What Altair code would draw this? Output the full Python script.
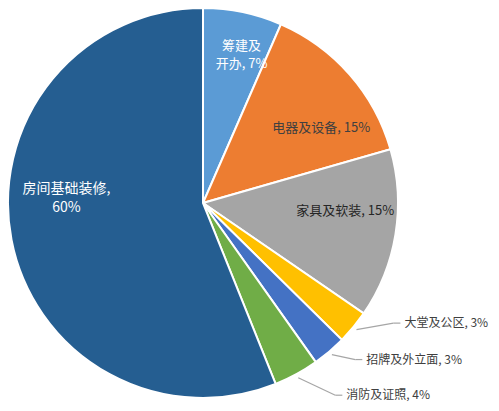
import altair as alt
import pandas as pd

categories = ["筹建及开办", "电器及设备", "家具及软装", "大堂及公区", "招牌及外立面", "消防及证照", "房间基础装修"]
values = [7, 15, 15, 3, 3, 4, 60]
labels = ["筹建及\n开办, 7%", "电器及设备, 15%", "家具及软装, 15%", "大堂及公区, 3%",
          "招牌及外立面, 3%", "消防及证照, 4%", "房间基础装修,\n60%"]
colors = ["#5B9BD5", "#ED7D31", "#A5A5A5", "#FFC000", "#4472C4", "#70AD47", "#255E91"]

df = pd.DataFrame({"category": categories, "value": values, "label": labels,
                   "idx": list(range(len(categories)))})

FONT = "Noto Sans CJK SC"
CX, CY, R = 195, 195, 195

base = alt.Chart(df)

pie = base.mark_arc(outerRadius=R, stroke="white", strokeWidth=2).encode(
    theta=alt.Theta("value:Q", stack=True),
    color=alt.Color("category:N", scale=alt.Scale(domain=categories, range=colors), legend=None),
    order=alt.Order("idx:Q"),
)

geo = base.transform_joinaggregate(total="sum(value)").transform_window(
    cum="sum(value)", sort=[alt.SortField("idx", order="ascending")], frame=[None, 0]
).transform_calculate(mid="(datum.cum - datum.value / 2) / datum.total * 2 * PI")


def inside(cat, r, dx, dy, color, size=13, lh=16):
    return geo.transform_filter(alt.datum.category == cat).transform_calculate(
        tx=f"{CX} + {r} * sin(datum.mid)", ty=f"{CY} - {r} * cos(datum.mid)"
    ).mark_text(dx=dx, dy=dy, color=color, fontSize=size, lineHeight=lh, lineBreak="\n",
                font=FONT, align="center", baseline="middle").encode(
        x=alt.X("tx:Q", scale=None, axis=None),
        y=alt.Y("ty:Q", scale=None, axis=None),
        text="label:N",
    )


def outside(cat, ox, oy, hlen):
    g = geo.transform_filter(alt.datum.category == cat).transform_calculate(
        ex=f"{CX} + {R} * sin(datum.mid)", ey=f"{CY} - {R} * cos(datum.mid)",
        sx=f"{CX} + {R + 4} * sin(datum.mid)", sy=f"{CY} - {R + 4} * cos(datum.mid)",
    ).transform_calculate(
        bx=f"datum.ex + {ox}", by=f"datum.ey + {oy}"
    ).transform_calculate(
        qx=f"datum.bx + {hlen}", qy="datum.by"
    )
    line_color = "#A6A6A6"
    r1 = g.mark_rule(color=line_color, strokeWidth=1.2).encode(
        x=alt.X("sx:Q", scale=None, axis=None), y=alt.Y("sy:Q", scale=None, axis=None),
        x2="bx:Q", y2="by:Q")
    r2 = g.mark_rule(color=line_color, strokeWidth=1.2).encode(
        x=alt.X("bx:Q", scale=None, axis=None), y=alt.Y("by:Q", scale=None, axis=None),
        x2="qx:Q", y2="qy:Q")
    t = g.mark_text(dx=4, color="#404040", fontSize=12, font=FONT, align="left",
                    baseline="middle").encode(
        x=alt.X("qx:Q", scale=None, axis=None), y=alt.Y("qy:Q", scale=None, axis=None),
        text="label:N")
    return [r1, r2, t]


layers = [pie,
          inside("筹建及开办", 150, 8, -10, "white", 13, 18),
          inside("电器及设备", 140, 13, 17, "#404040"),
          inside("家具及软装", 140, 4, -15, "#262626"),
          inside("房间基础装修", 140, 1, -41, "white", 14, 19)]
layers += outside("大堂及公区", 40, -4, 7)
layers += outside("招牌及外立面", 26, 8, 7)
layers += outside("消防及证照", 39, 21, 7)

chart = alt.layer(*layers).properties(
    width=390, height=390,
    autosize=alt.AutoSizeParams(type="none"),
    padding={"left": 0, "top": 0, "right": 93, "bottom": 5},
).configure_view(stroke=None)

chart.save("out.html", embed_options={"renderer": "svg", "actions": False})
